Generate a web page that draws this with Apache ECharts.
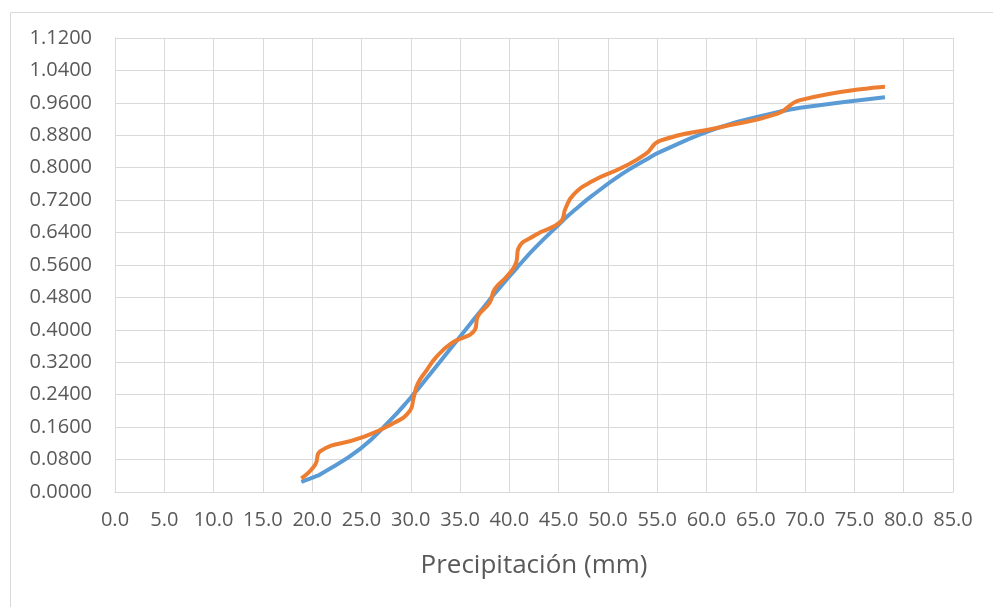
<!DOCTYPE html>
<html>
<head>
<meta charset="utf-8">
<script src="https://cdn.jsdelivr.net/npm/echarts@6/dist/echarts.min.js"></script>
<style>html,body{margin:0;padding:0;background:#fff;}#c{width:993px;height:607px;}</style>
</head>
<body>
<div id="c"></div>
<script>
// Precipitation (mm), sorted
var precip = [18.9, 20.3, 20.8, 24.9, 28.0, 29.9, 30.3, 30.7, 31.6, 32.6,
              34.1, 36.5, 36.8, 38.0, 38.5, 39.8, 40.7, 40.9, 42.6, 45.2,
              45.7, 46.5, 48.4, 51.4, 53.8, 55.3, 61.4, 67.2, 69.5, 78.1];
// empirical probability (orange)
var empirical = [0.0333, 0.0667, 0.1000, 0.1333, 0.1667, 0.2000, 0.2333, 0.2667, 0.3000, 0.3333,
                 0.3667, 0.4000, 0.4333, 0.4667, 0.5000, 0.5333, 0.5667, 0.6000, 0.6333, 0.6667,
                 0.7000, 0.7333, 0.7667, 0.8000, 0.8333, 0.8667, 0.9000, 0.9333, 0.9667, 1.0000];
// theoretical probability (blue)
var theoretical = [0.025, 0.038, 0.043, 0.107, 0.179, 0.230, 0.242, 0.253, 0.280, 0.310,
                   0.356, 0.429, 0.438, 0.474, 0.489, 0.526, 0.551, 0.557, 0.602, 0.664,
                   0.676, 0.693, 0.731, 0.784, 0.819, 0.839, 0.900, 0.937, 0.948, 0.974];
var xAxisName = 'Precipitación (mm)';

function pairs(xs, ys){ return xs.map(function(x,i){ return [x, ys[i]]; }); }

var chart = echarts.init(document.getElementById('c'));
var FONT = 'Open Sans';
chart.setOption({
  animation: false,
  backgroundColor: '#fff',
  graphic: [{
    type: 'rect', left: 8, top: 10, shape: {x: 0, y: 0, width: 1000, height: 620},
    style: {fill: 'none', stroke: '#D9D9D9', lineWidth: 1}, z: -1
  }],
  grid: {left: 115, right: 40, top: 38, bottom: 115, containLabel: false},
  xAxis: {
    type: 'value', min: 0, max: 85, interval: 5,
    name: xAxisName, nameLocation: 'middle', nameGap: 61,
    nameTextStyle: {fontFamily: FONT, fontSize: 26, color: '#595959'},
    axisLine: {show: true, lineStyle: {color: '#D9D9D9', width: 1}},
    axisTick: {show: false},
    axisLabel: {fontFamily: FONT, fontSize: 20, color: '#595959', margin: 18,
      formatter: function(v){ return v.toFixed(1); }},
    splitLine: {show: true, lineStyle: {color: '#D9D9D9', width: 1}}
  },
  yAxis: {
    type: 'value', min: 0, max: 1.12, interval: 0.08,
    axisLine: {show: true, lineStyle: {color: '#D9D9D9', width: 1}},
    axisTick: {show: false},
    axisLabel: {fontFamily: FONT, fontSize: 20, color: '#595959', margin: 23,
      formatter: function(v){ return v.toFixed(4); }},
    splitLine: {show: true, lineStyle: {color: '#D9D9D9', width: 1}}
  },
  series: [
    {type: 'line', data: pairs(precip, theoretical), smooth: 0.5, showSymbol: false,
     lineStyle: {color: '#5B9BD5', width: 4}, itemStyle: {color: '#5B9BD5'}},
    {type: 'line', data: pairs(precip, empirical), smooth: 0.5, showSymbol: false,
     lineStyle: {color: '#ED7D31', width: 4}, itemStyle: {color: '#ED7D31'}}
  ]
});
</script>
</body>
</html>
